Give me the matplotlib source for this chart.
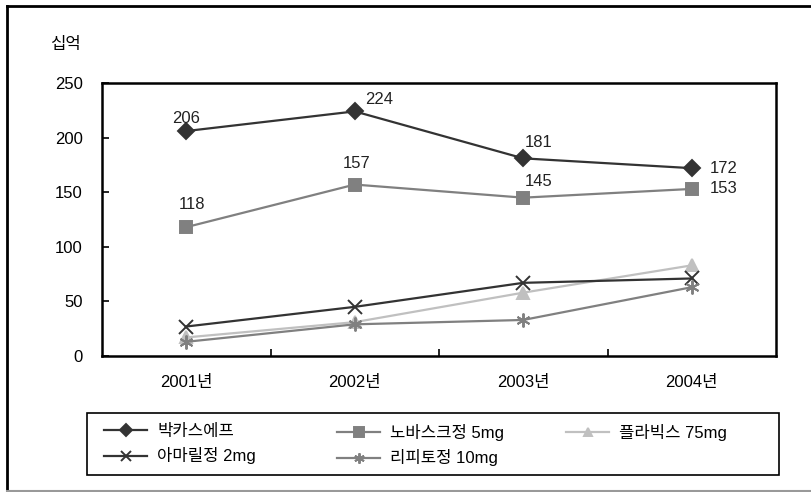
import matplotlib
matplotlib.use("Agg")
import matplotlib.pyplot as plt
from matplotlib.patches import Rectangle
from matplotlib.lines import Line2D

plt.rcParams['font.family'] = ['Liberation Sans', 'Noto Sans CJK KR']

# 데이터 (단위: 십억)
years = ['2001년', '2002년', '2003년', '2004년']
bacchus = [206, 224, 181, 172]
norvasc = [118, 157, 145, 153]
plavix = [17, 31, 58, 83]
amaryl = [27, 45, 67, 71]
lipitor = [13, 29, 33, 63]

names = ['박카스에프', '노바스크정 5mg', '플라빅스 75mg', '아마릴정 2mg', '리피토정 10mg']
values = [bacchus, norvasc, plavix, amaryl, lipitor]
colors = ['#333333', '#808080', '#c0c0c0', '#333333', '#808080']
markers = ['D', 's', '^', 'x', (6, 2, 0)]
msizes = [8, 9, 8.5, 10, 10]

W, H = 812, 492
fig = plt.figure(figsize=(W/100, H/100), dpi=100)
ax = fig.add_axes([102/W, 1-356/H, (776-102)/W, (356-83)/H])

x = list(range(len(years)))
handles = []
for name, vals, col, mk, ms in zip(names, values, colors, markers, msizes):
    ln, = ax.plot(x, vals, color=col, lw=1.6, marker=mk, ms=ms,
                  mec=col, mfc=col, mew=1.4, label=name)
    handles.append(ln)

# 데이터 레이블 (픽셀 오프셋)
lab_kw = dict(fontsize=12, color='#222222', textcoords='offset pixels')
b_off = [(0, 13, 'center'), (10, 12, 'left'), (2, 16, 'left'), (18, 0, 'left')]
n_off = [(6, 23, 'center'), (2, 21, 'center'), (2, 16, 'left'), (18, 0, 'left')]
for vals, offs in [(bacchus, b_off), (norvasc, n_off)]:
    for i, v in enumerate(vals):
        dx, dy, ha = offs[i]
        ax.annotate(str(v), (i, v), xytext=(dx, dy), ha=ha, va='center', **lab_kw)

ax.set_xlim(-0.5, 3.5)
ax.set_ylim(0, 250)
ax.set_yticks([0, 50, 100, 150, 200, 250])
ax.set_xticks(x)
ax.set_xticklabels(years)
ax.set_xticks([0.5, 1.5, 2.5], minor=True)
ax.tick_params(axis='x', which='major', length=0, pad=14, labelsize=12)
ax.tick_params(axis='x', which='minor', direction='in', length=5, width=1.2)
ax.tick_params(axis='y', direction='in', length=5, width=1.2, pad=14, labelsize=12)
for s in ax.spines.values():
    s.set_linewidth(1.8)
    s.set_color('black')

fig.text(50/W, 1-44/H, '십억', fontsize=12, va='center', ha='left')

# 범례: 열별로 따로 배치
cols = [[0, 3], [1, 4], [2]]
col_x = [104, 337, 566]
for cx, idx in zip(col_x, cols):
    fig.legend([handles[i] for i in idx], [names[i] for i in idx],
               loc='upper left', bbox_to_anchor=(cx/W, 1-424/H),
               fontsize=12, frameon=False, handlelength=2.6,
               handletextpad=0.6, labelspacing=0.5, borderaxespad=0,
               borderpad=0, markerscale=0.75)
fig.patches.append(Rectangle((87/W, 1-475/H), (779-87)/W, (475-413)/H,
                             transform=fig.transFigure, fill=False,
                             edgecolor='black', lw=1.2))

# 바깥 테두리
fig.lines.append(Line2D([7/W, 7/W], [1-492/H, 1-6/H], transform=fig.transFigure,
                        color='black', lw=2))
fig.lines.append(Line2D([7/W, 1], [1-6/H, 1-6/H], transform=fig.transFigure,
                        color='black', lw=2))
fig.lines.append(Line2D([7/W, 1], [1-491/H, 1-491/H], transform=fig.transFigure,
                        color='#999999', lw=1.5))

fig.savefig('out.png', dpi=100)
